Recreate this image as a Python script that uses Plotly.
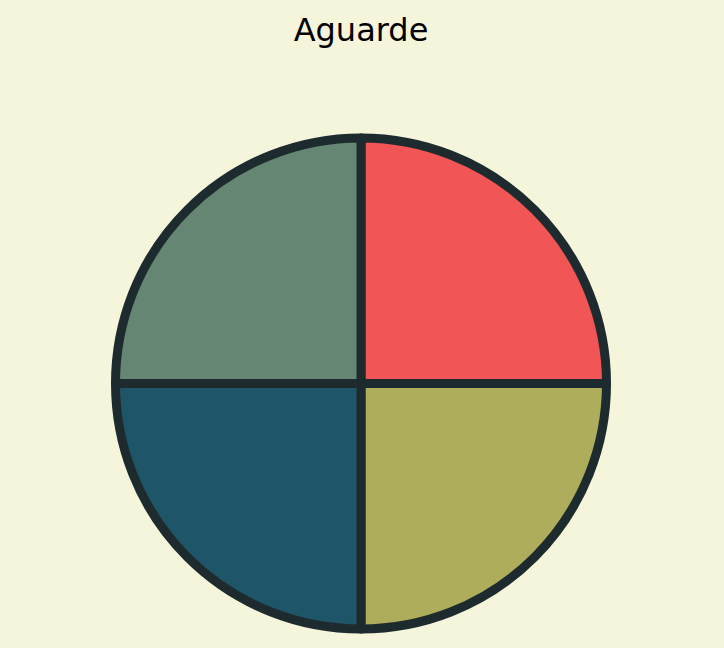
import plotly.graph_objects as go

labels = ["A", "B", "C", "D"]
values = [1, 1, 1, 1]
colors = ["#f25555", "#adad5c", "#1f5568", "#658672"]

fig = go.Figure(go.Pie(
    labels=labels,
    values=values,
    sort=False,
    direction="clockwise",
    rotation=0,
    textinfo="none",
    marker=dict(colors=colors, line=dict(color="#1e2b2e", width=9)),
    showlegend=False,
))

fig.update_layout(
    width=724,
    height=648,
    paper_bgcolor="#f5f5dc",
    plot_bgcolor="#f5f5dc",
    margin=dict(l=0, r=2, t=138, b=19),
    title=dict(text="Aguarde", x=0.5, xanchor="center", xref="paper",
               y=1 - 30 / 648, yref="container", yanchor="middle",
               font=dict(family="DejaVu Sans", size=32, color="#000000")),
)

fig.write_html("out.html")
